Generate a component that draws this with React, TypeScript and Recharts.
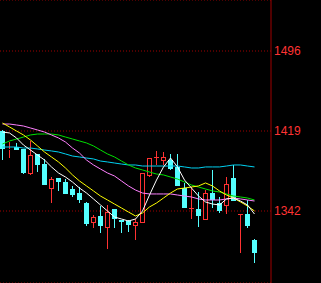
import { ComposedChart, Bar, Line, XAxis, YAxis, CartesianGrid } from "recharts";

const opens = [1419, 1401, 1404, 1402, 1378, 1397, 1387, 1363, 1373.5, 1369.6, 1363.5, 1359, 1350, 1330.2, 1337.2, 1325.3, 1343.6, 1333.3, 1332.4, 1327.6, 1330.7, 1375.7, 1393.5, 1390.4, 1391.1, 1384.1, 1363.8, 1344.6, 1343.9, 1333.3, 1359.3, 1349.7, 1346.8, 1373.8, 1339.1, 1339.1, 1314.1];
const highs = [1420, 1408, 1407, 1402, 1409, 1397, 1392, 1375, 1374, 1372.5, 1366, 1364.8, 1350.5, 1338.1, 1346.8, 1347.3, 1343.6, 1333.8, 1333.3, 1334.3, 1378.6, 1393, 1400, 1399.1, 1396.9, 1396.9, 1368.7, 1365.4, 1360.6, 1362.2, 1381.5, 1355.5, 1374.7, 1386.3, 1339.1, 1352.6, 1315];
const lows = [1391, 1393, 1401, 1378, 1377, 1380, 1367, 1350, 1361.5, 1358, 1355, 1349.4, 1327.6, 1325.3, 1320.8, 1305.4, 1325.6, 1320.8, 1321.8, 1314.1, 1330.4, 1375, 1386.3, 1386.3, 1381.5, 1366.1, 1344.6, 1334, 1326.9, 1333.3, 1344.9, 1340.1, 1339.1, 1351.6, 1301.6, 1325.6, 1292];
const closes = [1402, 1402, 1401, 1379, 1396, 1386, 1367, 1372.5, 1370, 1358, 1357.7, 1352.6, 1329.5, 1336.5, 1327.6, 1341.3, 1334, 1331.4, 1328.5, 1331.4, 1378.3, 1392.7, 1393.7, 1394.3, 1382.4, 1366.1, 1344.6, 1344.9, 1337.2, 1359.3, 1352.6, 1342, 1368, 1351.6, 1339.1, 1327.6, 1301.6];

const ma5 = [1418, 1417.1, 1412.3, 1405.5, 1400.7, 1395.9, 1391.1, 1384.4, 1378.6, 1374.7, 1369.9, 1364.1, 1359.3, 1353.6, 1347.8, 1342, 1336.2, 1334.3, 1332.4, 1334.3, 1342, 1357.4, 1371.8, 1384.4, 1393, 1384.4, 1371.8, 1364.1, 1356.4, 1350.7, 1348.7, 1347.8, 1353.6, 1354.5, 1351.6, 1347.8, 1339.1];
const ma10 = [1426.7, 1422.9, 1419, 1415.2, 1410.3, 1404.6, 1398.8, 1394, 1389.2, 1383.4, 1376.7, 1370.9, 1366.1, 1361.3, 1356.4, 1352.6, 1348.7, 1344.9, 1341, 1337.2, 1340.1, 1345.9, 1349.7, 1354.5, 1359.3, 1363.2, 1364.1, 1365.1, 1366.1, 1369, 1366.1, 1361.3, 1357.4, 1354.5, 1350.7, 1346.8, 1342];
const ma20 = [1425.7, 1425.7, 1424.8, 1423.8, 1421.9, 1420, 1418, 1415.2, 1412.3, 1408.4, 1402.6, 1397.8, 1391.1, 1386.3, 1382.4, 1378.6, 1375.7, 1370.9, 1366.1, 1362.2, 1359.3, 1358.4, 1358.4, 1358.4, 1358.4, 1357.4, 1356.4, 1355.5, 1353.6, 1352.6, 1352.6, 1352.6, 1353.6, 1354.5, 1353.6, 1352.6, 1351.6];
const ma30 = [1406.5, 1409.4, 1411.3, 1413.2, 1415.2, 1416.1, 1416.1, 1416.1, 1415.2, 1413.2, 1411.3, 1409.4, 1407.5, 1404.6, 1400.7, 1396.9, 1394, 1390.1, 1386.3, 1383.4, 1381.5, 1379.5, 1377.6, 1376.7, 1374.7, 1372.8, 1369.9, 1367, 1365.1, 1363.2, 1361.3, 1360.3, 1358.4, 1356.4, 1355.5, 1354.5, 1352.6];
const ma60 = [1403.6, 1403.6, 1403.6, 1402.6, 1402.6, 1401.7, 1400.7, 1399.8, 1398.8, 1396.9, 1394.9, 1394, 1393, 1392.1, 1390.1, 1389.2, 1388.2, 1387.2, 1386.3, 1386.3, 1385.3, 1385.3, 1385.3, 1385.3, 1385.3, 1385.3, 1384.4, 1383.4, 1383.4, 1384.4, 1384.4, 1384.4, 1385.3, 1386.3, 1386.3, 1385.3, 1384.4];

const yTicks = [1342, 1419, 1496];

const UP = "#ff3232";
const DOWN = "#54ffff";

const data = opens.map((open, i) => ({
  i,
  open,
  high: highs[i],
  low: lows[i],
  close: closes[i],
  range: [lows[i], highs[i]],
  ma5: ma5[i],
  ma10: ma10[i],
  ma20: ma20[i],
  ma30: ma30[i],
  ma60: ma60[i],
}));

// candle body + wicks, placed from the range bar [low, high]
function Candle(props: any) {
  const { x, y, width, height, payload } = props;
  const { open, close, high, low } = payload;
  const top = Math.min(y, y + height);
  const h = Math.abs(height);
  const ppu = high === low ? 0 : h / (high - low);
  const py = (v: number) => top + (high - v) * ppu;
  const left = Math.round(x + width / 2 - 2.5);
  const cx = left + 2.5;
  const up = close >= open;
  const color = up ? UP : DOWN;
  const bTop = Math.round(py(Math.max(open, close)));
  const bBot = Math.round(py(Math.min(open, close)));
  const yHigh = Math.round(py(high));
  const yLow = Math.round(py(low));

  if (bBot - bTop < 1) {
    return (
      <g>
        <line x1={cx} x2={cx} y1={yHigh} y2={yLow} stroke={color} />
        <line x1={left} x2={left + 5} y1={bTop + 0.5} y2={bTop + 0.5} stroke={color} />
      </g>
    );
  }

  return (
    <g>
      <line x1={cx} x2={cx} y1={yHigh} y2={bTop} stroke={color} />
      <line x1={cx} x2={cx} y1={bBot} y2={yLow} stroke={color} />
      {up ? (
        <rect x={left + 0.5} y={bTop + 0.5} width={4} height={bBot - bTop - 1} fill="#000" stroke={color} />
      ) : (
        <rect x={left} y={bTop} width={5} height={bBot - bTop} fill={color} />
      )}
    </g>
  );
}

export default function App() {
  return (
    <div style={{ position: "absolute", left: 0, top: 0, width: 321, height: 283, background: "#000" }}>
      <ComposedChart width={321} height={283} data={data} margin={{ top: 0, right: 0, bottom: 0, left: 0 }}>
        <CartesianGrid vertical={false} stroke="#a00000" strokeDasharray="1 2" />
        <XAxis dataKey="i" type="number" domain={[-0.357, 38.357]} hide allowDataOverflow />
        <YAxis
          orientation="right"
          width={50}
          domain={[1272.7, 1545.1]}
          ticks={yTicks}
          allowDataOverflow
          axisLine={{ stroke: "#a00000" }}
          tickLine={false}
          tickSize={0}
          tickMargin={3}
          tick={{ fill: "#ff3333", fontSize: 12, fontFamily: "Liberation Sans, Arial, sans-serif" }}
        />
        <Line dataKey="ma60" stroke="#00d0f0" dot={false} activeDot={false} strokeWidth={1} isAnimationActive={false} />
        <Line dataKey="ma30" stroke="#00e000" dot={false} activeDot={false} strokeWidth={1} isAnimationActive={false} />
        <Line dataKey="ma20" stroke="#ff80ff" dot={false} activeDot={false} strokeWidth={1} isAnimationActive={false} />
        <Bar dataKey="range" barSize={5} shape={<Candle />} activeBar={false} isAnimationActive={false} />
        <Line dataKey="ma10" stroke="#ffff00" dot={false} activeDot={false} strokeWidth={1} isAnimationActive={false} />
        <Line dataKey="ma5" stroke="#ffffff" dot={false} activeDot={false} strokeWidth={1} isAnimationActive={false} />
      </ComposedChart>
    </div>
  );
}
